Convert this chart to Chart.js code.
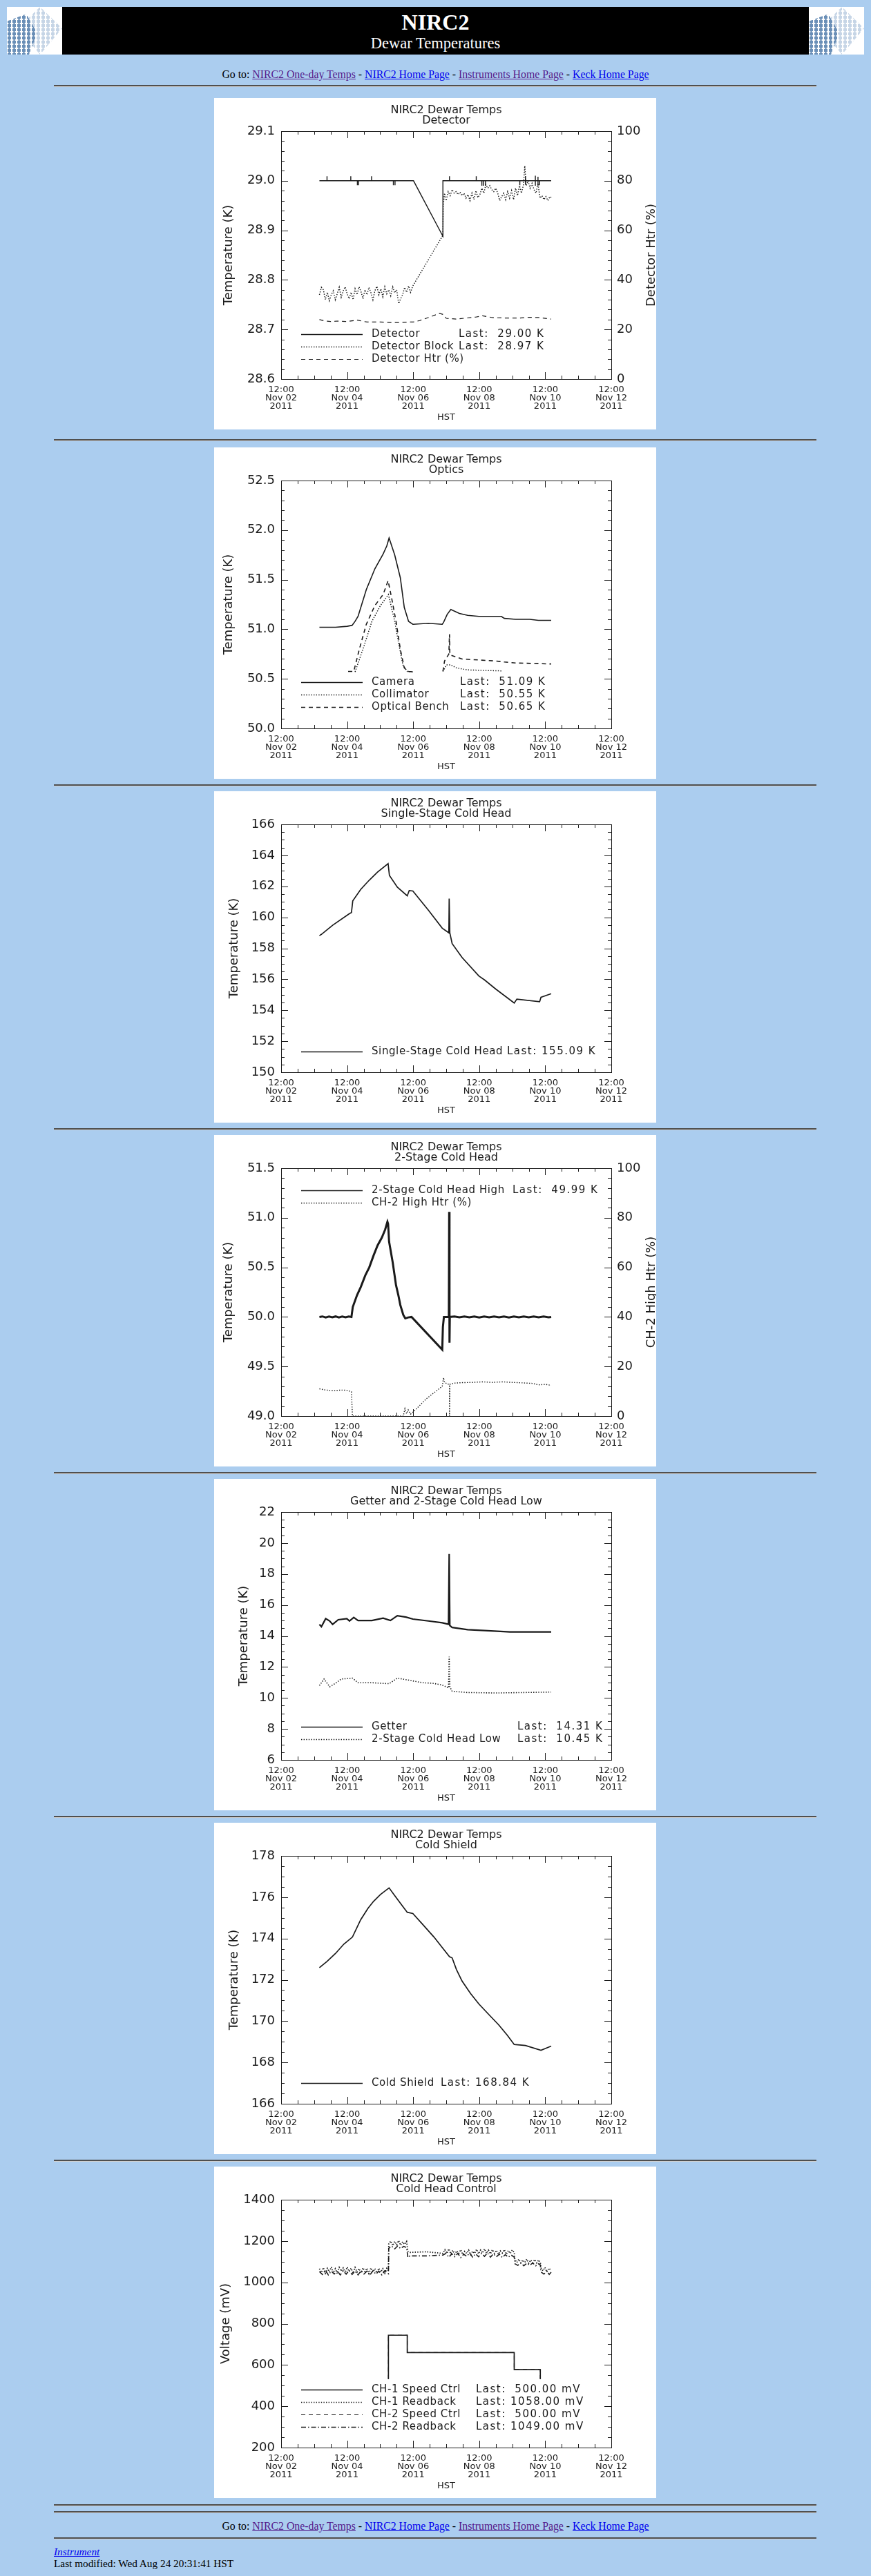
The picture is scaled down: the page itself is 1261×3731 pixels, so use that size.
<!DOCTYPE html>
<html lang="en">
<head>
<meta charset="utf-8">
<title>NIRC2 Dewar Temperatures</title>
<script src="https://cdn.jsdelivr.net/npm/chart.js@4.4.1/dist/chart.umd.min.js"></script>
<style>
  html, body { margin: 0; padding: 0; background: #abcdef; }
  body { font-family: "Liberation Serif", "Times New Roman", serif; color: #000; }
  #page { position: relative; width: 1261px; height: 3731px; overflow: hidden; }
  #page > * { position: absolute; }
  a { color: #0000ee; }
  a.seen { color: #551a8b; }
  #banner { left: 10px; top: 10px; width: 1241px; height: 69px; background: #000; color: #fff; text-align: center; }
  #banner .t1 { position: absolute; left: 80px; right: 80px; top: 4px; font-size: 32px; font-weight: bold; line-height: 36px; }
  #banner .t2 { position: absolute; left: 80px; right: 80px; top: 40px; font-size: 22.5px; line-height: 26px; }
  .logo { position: absolute; top: 0; width: 80px; height: 69px; background: #fff; overflow: hidden; }
  .logo i { position: absolute; left: 0; top: 0; width: 80px; height: 69px;
            background-image: radial-gradient(circle, var(--c) 2.5px, transparent 3px);
            background-size: 7px 6px; }
  .logo .lt { --c: #c6d5e6; clip-path: polygon(60% 0, 100% 45%, 60% 100%, 20% 45%); }
  .logo .dk { --c: #6a8fb7; clip-path: polygon(0 30%, 35% 15%, 55% 55%, 40% 100%, 0 100%); }
  .nav { left: 0; width: 1261px; height: 20px; text-align: center; font-size: 15.8px; line-height: 20px; }
  .rule { left: 78px; width: 1104px; height: 0; border-top: 2px solid #4f4f4f; border-bottom: 1px solid #d0d0d0; }
  .panel { left: 310px; width: 640px; height: 480px; background: #fff; }
  .panel canvas { display: block; }
  .foot { left: 78px; font-size: 15.3px; line-height: 18px; white-space: nowrap; }
</style>
</head>
<body>
<div id="page">
  <div id="banner">
    <div class="logo" style="left:0"><i class="lt"></i><i class="dk"></i></div>
    <div class="t1">NIRC2</div>
    <div class="t2">Dewar Temperatures</div>
    <div class="logo" style="left:1161px"><i class="lt"></i><i class="dk"></i></div>
  </div>

  <div class="nav" style="top:98px">Go to: <a class="seen" href="#">NIRC2 One-day Temps</a> - <a href="#">NIRC2 Home Page</a> - <a class="seen" href="#">Instruments Home Page</a> - <a href="#">Keck Home Page</a></div>
  <div class="rule" style="top:123px"></div>

  <div class="panel" style="top:142px"><canvas id="p1" width="640" height="480"></canvas></div>
  <div class="rule" style="top:636px"></div>
  <div class="panel" style="top:648px"><canvas id="p2" width="640" height="480"></canvas></div>
  <div class="rule" style="top:1136px"></div>
  <div class="panel" style="top:1146px"><canvas id="p3" width="640" height="480"></canvas></div>
  <div class="rule" style="top:1634px"></div>
  <div class="panel" style="top:1644px"><canvas id="p4" width="640" height="480"></canvas></div>
  <div class="rule" style="top:2132px"></div>
  <div class="panel" style="top:2142px"><canvas id="p5" width="640" height="480"></canvas></div>
  <div class="rule" style="top:2630px"></div>
  <div class="panel" style="top:2640px"><canvas id="p6" width="640" height="480"></canvas></div>
  <div class="rule" style="top:3128px"></div>
  <div class="panel" style="top:3138px"><canvas id="p7" width="640" height="480"></canvas></div>

  <div class="rule" style="top:3627px"></div>
  <div class="rule" style="top:3637px"></div>
  <div class="nav" style="top:3649px">Go to: <a class="seen" href="#">NIRC2 One-day Temps</a> - <a href="#">NIRC2 Home Page</a> - <a class="seen" href="#">Instruments Home Page</a> - <a href="#">Keck Home Page</a></div>
  <div class="rule" style="top:3675px"></div>
  <div class="foot" style="top:3687px"><a href="#"><i>Instrument</i></a></div>
  <div class="foot" style="top:3704px">Last modified: Wed Aug 24 20:31:41 HST</div>
</div>

<script>
// time axis: days after 12:00 Nov 02 2011 (HST)
const xTickValues = [0, 2, 4, 6, 8, 10];
const xTickLabels = [
  ["12:00", "Nov 02", "2011"], ["12:00", "Nov 04", "2011"], ["12:00", "Nov 06", "2011"],
  ["12:00", "Nov 08", "2011"], ["12:00", "Nov 10", "2011"], ["12:00", "Nov 12", "2011"],
];
const heaterAxisTicks = [0, 20, 40, 60, 80, 100];

// --- Detector ---
const detectorAxisTicks = [28.6, 28.7, 28.8, 28.9, 29.0, 29.1];
const detectorLegend = ["Detector", "Detector Block", "Detector Htr (%)"];
const detectorLast = ["Last:  29.00 K", "Last:  28.97 K", ""];
const detectorTimes = [1.16, 1.39, 1.39, 1.39, 2.11, 2.11, 2.11, 2.31, 2.31, 2.31,
  2.35, 2.35, 2.35, 2.74, 2.74, 2.74, 3.40, 3.40, 3.40, 3.45, 3.45, 3.45, 4.01, 4.90, 4.90,
  5.10, 5.10, 5.10, 5.91, 5.91, 5.91, 6.08, 6.08, 6.08, 6.13, 6.13, 6.13, 6.19, 6.19, 6.19,
  7.23, 7.23, 7.23, 7.40, 7.40, 7.40, 7.40, 7.70, 7.70, 7.70, 7.70, 7.78, 7.78, 7.78, 7.78,
  7.83, 7.83, 7.83, 8.18];
const detectorTemps = [29.000, 29.000, 29.009, 29.000, 29.000, 29.009, 29.000, 29.000, 28.991, 29.000,
  29.000, 28.991, 29.000, 29.000, 29.009, 29.000, 29.000, 28.991, 29.000, 29.000, 28.991, 29.000, 29.000, 28.888, 29.000,
  29.000, 29.009, 29.000, 29.000, 29.009, 29.000, 29.000, 28.990, 29.000, 29.000, 28.990, 29.000, 29.000, 28.990, 29.000,
  29.000, 28.991, 29.000, 29.000, 29.009, 28.992, 29.000, 29.000, 29.010, 28.990, 29.000, 29.000, 29.008, 28.990, 29.000,
  29.000, 28.991, 29.000, 29.000];
const blockTimes = [1.16, 1.22, 1.28, 1.34, 1.40, 1.46, 1.52, 1.58, 1.64, 1.70,
  1.76, 1.82, 1.88, 1.94, 2.00, 2.06, 2.12, 2.18, 2.24, 2.30,
  2.36, 2.42, 2.48, 2.54, 2.60, 2.66, 2.72, 2.78, 2.84, 2.90,
  2.96, 3.02, 3.08, 3.14, 3.20, 3.26, 3.32, 3.38, 3.44, 3.50,
  3.56, 3.62, 3.68, 3.74, 3.80, 3.86, 3.92, 3.99,
  4.90, 4.91, 4.95, 5.00, 5.06, 5.12, 5.18, 5.24, 5.30, 5.36,
  5.42, 5.48, 5.54, 5.60, 5.66, 5.72, 5.78, 5.84, 5.90, 5.96,
  6.02, 6.08, 6.14, 6.20, 6.26, 6.32, 6.38, 6.44, 6.50, 6.56,
  6.62, 6.68, 6.74, 6.80, 6.86, 6.92, 6.98, 7.04, 7.10, 7.16,
  7.22, 7.28, 7.34, 7.38, 7.42, 7.48, 7.54, 7.60, 7.66, 7.72,
  7.78, 7.84, 7.90, 7.96, 8.02, 8.08, 8.14, 8.18];
const blockTemps = [28.770, 28.785, 28.780, 28.760, 28.775, 28.758, 28.770, 28.778, 28.760, 28.772,
  28.785, 28.765, 28.778, 28.786, 28.772, 28.762, 28.775, 28.760, 28.782, 28.770,
  28.786, 28.776, 28.762, 28.780, 28.770, 28.785, 28.774, 28.760, 28.778, 28.787,
  28.770, 28.782, 28.766, 28.786, 28.772, 28.780, 28.768, 28.786, 28.774, 28.780,
  28.752, 28.762, 28.770, 28.785, 28.775, 28.788, 28.775, 28.788,
  28.890, 28.950, 28.975, 28.960, 28.978, 28.970, 28.982, 28.975, 28.978, 28.972,
  28.977, 28.970, 28.975, 28.965, 28.972, 28.960, 28.975, 28.962, 28.980, 28.966,
  28.972, 28.985, 28.975, 28.992, 28.985, 28.990, 28.982, 28.978, 28.985, 28.975,
  28.960, 28.968, 28.975, 28.962, 28.978, 28.965, 28.980, 28.962, 28.985, 28.970,
  28.990, 28.975, 28.992, 29.030, 28.990, 29.000, 28.985, 28.995, 28.982, 28.975,
  28.995, 28.965, 28.970, 28.962, 28.968, 28.960, 28.968, 28.966];
const detHeaterTimes = [1.16, 1.30, 1.50, 1.70, 2.00, 2.30, 2.60, 3.00, 3.30, 3.60,
  3.90, 4.00, 4.20, 4.50, 4.80, 4.92, 5.00, 5.30, 5.60, 5.90,
  6.10, 6.40, 6.80, 7.20, 7.50, 7.80, 8.18];
const detHeaterPct = [24.0, 23.5, 23.2, 23.4, 23.2, 23.8, 23.0, 23.0, 22.8, 22.8,
  23.0, 23.0, 23.6, 25.0, 26.5, 26.0, 24.5, 24.2, 24.6, 25.0,
  25.5, 24.8, 24.6, 24.6, 24.9, 24.8, 24.2];

// --- Optics ---
const opticsAxisTicks = [50.0, 50.5, 51.0, 51.5, 52.0, 52.5];
const opticsLegend = ["Camera", "Collimator", "Optical Bench"];
const opticsLast = ["Last:  51.09 K", "Last:  50.55 K", "Last:  50.65 K"];
const cameraTimes = [1.16, 1.65, 2.00, 2.15, 2.24, 2.33, 2.58, 2.84, 3.09, 3.20,
  3.27, 3.44, 3.61, 3.73, 3.86, 3.99, 4.46, 4.88, 4.92, 5.03,
  5.14, 5.40, 5.65, 5.99, 6.67, 6.76, 7.10, 7.53, 7.79, 8.18];
const cameraTemps = [51.02, 51.02, 51.03, 51.04, 51.08, 51.13, 51.40, 51.61, 51.76, 51.84,
  51.92, 51.75, 51.52, 51.22, 51.08, 51.05, 51.06, 51.05, 51.07, 51.15,
  51.20, 51.16, 51.14, 51.13, 51.13, 51.11, 51.10, 51.10, 51.09, 51.09];
const collimatorTimes = [2.24, 2.50, 2.75, 3.01, 3.25, 3.44, 3.57, 3.69, 3.82, 3.99,
  4.40, 4.90, 5.01, 5.14, 5.31, 5.65, 6.68];
const collimatorTemps = [50.57, 50.82, 51.08, 51.24, 51.35, 51.08, 50.84, 50.64, 50.575, 50.57,
  null, 50.575, 50.64, 50.64, 50.61, 50.59, 50.58];
const benchTimes = [2.03, 2.20, 2.37, 2.58, 2.84, 3.09, 3.24, 3.35, 3.48, 3.61,
  3.73, 3.86, 3.99, 4.40, 4.90, 4.95, 5.08, 5.10, 5.11, 5.12,
  5.48, 6.50, 6.76, 7.10, 8.18];
const benchTemps = [50.575, 50.575, 50.80, 51.05, 51.24, 51.35, 51.49, 51.31, 51.08, 50.80,
  50.61, 50.575, 50.57, null, 50.575, 50.68, 50.75, 50.95, 50.75, 50.74,
  50.70, 50.68, 50.67, 50.66, 50.65];

// --- Single-Stage Cold Head ---
const singleAxisTicks = [150, 152, 154, 156, 158, 160, 162, 164, 166];
const singleLegend = ["Single-Stage Cold Head"];
const singleLast = ["Last: 155.09 K"];
const singleTimes = [1.16, 1.22, 1.56, 2.07, 2.13, 2.17, 2.41, 2.67, 2.92, 3.24,
  3.28, 3.52, 3.82, 3.88, 3.99, 4.46, 4.88, 5.08, 5.09, 5.11,
  5.18, 5.48, 5.99, 6.16, 6.50, 7.06, 7.14, 7.83, 7.87, 8.18];
const singleTemps = [158.82, 158.90, 159.49, 160.24, 160.31, 161.06, 161.80, 162.40, 162.92, 163.47,
  162.70, 161.95, 161.39, 161.73, 161.70, 160.46, 159.30, 159.00, 161.21, 159.00,
  158.30, 157.41, 156.21, 155.96, 155.37, 154.47, 154.72, 154.55, 154.84, 155.07];

// --- 2-Stage Cold Head ---
const stageAxisTicks = [49.0, 49.5, 50.0, 50.5, 51.0, 51.5];
const stageLegend = ["2-Stage Cold Head High", "CH-2 High Htr (%)"];
const stageLast = ["Last:  49.99 K", ""];
const highTimes = [1.16, 1.25, 1.35, 1.45, 1.55, 1.65, 1.75, 1.85, 1.95, 2.05,
  2.13, 2.17, 2.30, 2.41, 2.55, 2.67, 2.80, 2.92, 3.05, 3.15,
  3.22, 3.24, 3.27, 3.38, 3.48, 3.55, 3.61, 3.70, 3.76, 3.85,
  3.95, 4.88, 4.90, 4.93, 5.08, 5.09, 5.10, 5.11, 5.25, 5.40,
  5.55, 5.70, 5.85, 6.00, 6.15, 6.30, 6.45, 6.60, 6.75, 6.90,
  7.05, 7.20, 7.35, 7.50, 7.65, 7.80, 7.95, 8.10, 8.18];
const highTemps = [50.00, 50.005, 49.995, 50.004, 49.996, 50.005, 49.995, 50.004, 49.996, 50.005,
  50.00, 50.10, 50.22, 50.30, 50.42, 50.50, 50.62, 50.72, 50.80, 50.88,
  50.96, 50.94, 50.76, 50.55, 50.32, 50.22, 50.12, 50.02, 49.985, 49.995,
  50.00, 49.67, 49.90, 50.00, 50.00, 51.06, 49.74, 50.00, 50.004, 49.996,
  50.004, 49.996, 50.005, 49.995, 50.004, 49.996, 50.004, 49.996, 50.005, 49.995,
  50.004, 49.996, 50.004, 49.996, 50.005, 49.996, 50.004, 49.996, 50.00];
const ch2HeaterTimes = [1.16, 1.30, 1.45, 1.60, 1.80, 2.00, 2.13, 2.16, 3.70, 3.75,
  3.80, 3.85, 3.92, 3.99, 4.40, 4.88, 4.92, 4.95, 5.05, 5.10,
  5.10, 5.11, 5.25, 5.50, 5.80, 6.10, 6.40, 6.70, 7.00, 7.30,
  7.60, 7.80, 8.00, 8.18];
const ch2HeaterPct = [11.0, 10.6, 10.4, 10.2, 10.5, 10.4, 9.8, 0, 0, 3.0,
  1.0, 2.5, 0.8, 1.5, 7.0, 12.0, 15.5, 13.5, 13.0, 12.5,
  0, 12.8, 13.3, 13.5, 13.6, 13.8, 13.6, 13.8, 13.6, 13.4,
  13.2, 12.6, 12.8, 12.4];

// --- Getter and 2-Stage Cold Head Low ---
const getterAxisTicks = [6, 8, 10, 12, 14, 16, 18, 20, 22];
const getterLegend = ["Getter", "2-Stage Cold Head Low"];
const getterLast = ["Last:  14.31 K", "Last:  10.45 K"];
const getterTimes = [1.16, 1.22, 1.35, 1.47, 1.56, 1.73, 1.99, 2.07, 2.20, 2.33,
  2.75, 3.09, 3.31, 3.52, 3.78, 3.99, 4.46, 4.88, 5.07, 5.09,
  5.11, 5.18, 5.65, 6.16, 6.93, 8.18];
const getterTemps = [14.75, 14.60, 15.12, 14.97, 14.75, 15.05, 15.12, 14.97, 15.20, 15.00,
  15.00, 15.15, 15.00, 15.31, 15.22, 15.09, 14.97, 14.85, 14.75, 19.29,
  14.67, 14.55, 14.41, 14.35, 14.26, 14.26];
const lowTimes = [1.16, 1.30, 1.47, 1.65, 1.82, 2.16, 2.33, 2.75, 3.27, 3.52,
  3.99, 4.29, 4.59, 4.88, 5.07, 5.09, 5.11, 5.18, 5.65, 6.50, 8.18];
const lowTemps = [10.80, 11.22, 10.72, 10.95, 11.22, 11.28, 10.98, 10.98, 10.92, 11.28,
  11.10, 10.98, 10.95, 10.83, 10.65, 12.66, 10.72, 10.43, 10.35, 10.32, 10.38];

// --- Cold Shield ---
const shieldAxisTicks = [166, 168, 170, 172, 174, 176, 178];
const shieldLegend = ["Cold Shield"];
const shieldLast = ["Last: 168.84 K"];
const shieldTimes = [1.16, 1.39, 1.65, 1.90, 2.16, 2.41, 2.63, 2.80, 3.01, 3.27,
  3.44, 3.65, 3.82, 3.99, 4.29, 4.63, 4.88, 5.10, 5.18, 5.31,
  5.48, 5.74, 5.99, 6.29, 6.59, 6.85, 7.06, 7.40, 7.87, 8.04, 8.18];
const shieldTemps = [172.59, 172.89, 173.28, 173.73, 174.07, 174.91, 175.46, 175.80, 176.13, 176.45,
  176.08, 175.63, 175.27, 175.21, 174.68, 174.07, 173.56, 173.12, 173.06, 172.50,
  171.94, 171.33, 170.83, 170.32, 169.82, 169.32, 168.87, 168.82, 168.59, 168.70, 168.79];

// --- Cold Head Control ---
const voltAxisTicks = [200, 400, 600, 800, 1000, 1200, 1400];
const controlLegend = ["CH-1 Speed Ctrl", "CH-1 Readback", "CH-2 Speed Ctrl", "CH-2 Readback"];
const controlLast = ["Last:  500.00 mV", "Last: 1058.00 mV", "Last:  500.00 mV", "Last: 1049.00 mV"];
const speedTimes = [3.25, 3.25, 3.82, 3.82, 7.06, 7.06, 7.85, 7.85];
const ch1Speed = [532, 744, 744, 660, 660, 577, 577, 532];
const ch2Speed = [532, 744, 744, 660, 660, 577, 577, 532];
const ch1ReadTimes = [1.16, 1.22, 1.28, 1.34, 1.40, 1.46, 1.52, 1.58, 1.64, 1.70,
  1.76, 1.82, 1.88, 1.94, 2.00, 2.06, 2.12, 2.18, 2.24, 2.30,
  2.36, 2.42, 2.48, 2.54, 2.60, 2.66, 2.72, 2.78, 2.84, 2.90,
  2.96, 3.02, 3.08, 3.14, 3.20, 3.25,
  3.26, 3.32, 3.38, 3.44, 3.50, 3.56, 3.62, 3.68, 3.74, 3.80, 3.84, 3.90, 4.40, 4.90,
  4.96, 5.02, 5.08, 5.14, 5.20, 5.26, 5.32, 5.38, 5.44, 5.50,
  5.56, 5.62, 5.68, 5.74, 5.80, 5.86, 5.92, 5.98, 6.04, 6.10,
  6.16, 6.22, 6.28, 6.34, 6.40, 6.46, 6.52, 6.58, 6.64, 6.70,
  6.76, 6.82, 6.88, 6.94, 7.00, 7.06,
  7.08, 7.14, 7.20, 7.26, 7.32, 7.38, 7.44, 7.50, 7.56, 7.62, 7.68, 7.74, 7.80, 7.85,
  7.87, 7.93, 7.99, 8.05, 8.11, 8.18];
const ch1Readback = [1066, 1048, 1071, 1044, 1068, 1051, 1074, 1046, 1066, 1042,
  1072, 1054, 1070, 1046, 1074, 1052, 1068, 1044, 1072, 1050,
  1066, 1046, 1070, 1052, 1068, 1042, 1070, 1050, 1066, 1046,
  1068, 1050, 1066, 1044, 1068, 1056,
  1185, 1200, 1178, 1198, 1182, 1202, 1180, 1196, 1184, 1198, 1150, 1145, 1148, 1140,
  1158, 1140, 1162, 1138, 1155, 1136, 1152, 1140, 1158, 1135,
  1150, 1140, 1156, 1134, 1150, 1140, 1160, 1138, 1156, 1142,
  1162, 1140, 1156, 1138, 1158, 1140, 1155, 1136, 1152, 1142,
  1158, 1136, 1154, 1140, 1156, 1145,
  1110, 1096, 1112, 1094, 1108, 1096, 1112, 1092, 1108, 1095, 1110, 1094, 1108, 1098,
  1070, 1056, 1072, 1050, 1068, 1058];
const ch2ReadTimes = [1.16, 1.25, 1.34, 1.43, 1.52, 1.61, 1.70, 1.79, 1.88, 1.97,
  2.06, 2.15, 2.24, 2.33, 2.42, 2.51, 2.60, 2.69, 2.78, 2.87,
  2.96, 3.05, 3.14, 3.25,
  3.26, 3.35, 3.44, 3.53, 3.62, 3.71, 3.80, 3.84, 3.90, 4.40, 4.90,
  4.99, 5.08, 5.17, 5.26, 5.35, 5.44, 5.53, 5.62, 5.71, 5.80,
  5.89, 5.98, 6.07, 6.16, 6.25, 6.34, 6.43, 6.52, 6.61, 6.70,
  6.79, 6.88, 6.97, 7.06,
  7.08, 7.17, 7.26, 7.35, 7.44, 7.53, 7.62, 7.71, 7.80, 7.85,
  7.87, 7.96, 8.05, 8.12, 8.18];
const ch2Readback = [1052, 1038, 1058, 1036, 1054, 1040, 1056, 1036, 1054, 1040,
  1058, 1038, 1054, 1036, 1056, 1040, 1054, 1036, 1056, 1040,
  1054, 1036, 1056, 1042,
  1165, 1175, 1162, 1176, 1164, 1174, 1168, 1120, 1128, 1128, 1132,
  1140, 1122, 1138, 1124, 1140, 1120, 1136, 1126, 1142, 1122,
  1138, 1124, 1140, 1126, 1142, 1122, 1138, 1124, 1136, 1120,
  1134, 1122, 1132, 1122,
  1090, 1082, 1094, 1080, 1092, 1082, 1094, 1080, 1090, 1084,
  1050, 1040, 1055, 1038, 1049];

const INK = "#1a1a1a";
const SANS = "'DejaVu Sans', 'Liberation Sans', sans-serif";
const SOLID = [];
const DOTTED = [1.4, 2.2];
const DASHED = [6, 5];
const DASHDOT = [7, 3, 1.5, 3];

Chart.defaults.font.family = SANS;
Chart.defaults.color = INK;

function points(times, values) {
  return times.map((t, i) => ({ x: t, y: values[i] }));
}

function line(label, times, values, dash, width, axis) {
  return {
    label,
    data: points(times, values),
    borderColor: INK,
    borderWidth: width || 1.3,
    borderDash: dash,
    yAxisID: axis || "y",
    pointRadius: 0,
    tension: 0,
    fill: false,
    spanGaps: false,
  };
}

// IDL style box: inward ticks on all four sides, legend inside the plot
function idlFrame(p) {
  return {
    id: "idlFrame",
    afterDatasetsDraw(chart) {
      const { ctx, chartArea: a, scales } = chart;
      const seg = (x1, y1, x2, y2) => {
        ctx.beginPath(); ctx.moveTo(x1, y1); ctx.lineTo(x2, y2); ctx.stroke();
      };
      const along = (scale, minor, major, draw) => {
        const n = Math.round((scale.max - scale.min) / minor);
        for (let i = 0; i <= n; i++) {
          const v = scale.min + i * minor;
          const r = (v - scale.min) / major;
          const isMajor = Math.abs(r - Math.round(r)) < 1e-6;
          draw(Math.round(scale.getPixelForValue(v)) + 0.5, isMajor ? 10 : 5);
        }
      };
      ctx.save();
      ctx.strokeStyle = INK;
      ctx.lineWidth = 1;
      ctx.setLineDash([]);
      ctx.strokeRect(a.left + 0.5, a.top + 0.5, a.right - a.left, a.bottom - a.top);
      along(scales.x, 0.5, 2, (px, len) => {
        seg(px, a.bottom, px, a.bottom - len);
        seg(px, a.top, px, a.top + len);
      });
      along(scales.y, p.yMinor, p.yMajor, (py, len) => seg(a.left, py, a.left + len, py));
      if (p.right) {
        along(scales.y2, p.right.minor, p.right.major, (py, len) => seg(a.right, py, a.right - len, py));
      } else {
        along(scales.y, p.yMinor, p.yMajor, (py, len) => seg(a.right, py, a.right - len, py));
      }

      // legend: name column at 228, "Last:" column at p.lastX
      ctx.font = "15px " + SANS;
      ctx.fillStyle = INK;
      ctx.textBaseline = "middle";
      ctx.textAlign = "left";
      p.legendNames.forEach((name, i) => {
        const ds = chart.data.datasets[i];
        const y = p.legendTop + i * 18;
        ctx.lineWidth = Math.min(ds.borderWidth, 1.6);
        ctx.setLineDash(ds.borderDash || []);
        seg(126, y + 0.5, 215, y + 0.5);
        ctx.setLineDash([]);
        ctx.letterSpacing = "0.6px";
        ctx.fillText(name, 228, y);
        if (p.legendLast && p.legendLast[i]) {
          ctx.letterSpacing = "1.5px";
          ctx.fillText(p.legendLast[i], p.lastX, y);
        }
      });
      ctx.letterSpacing = "0px";

      if (p.right) {
        ctx.translate(633, (a.top + a.bottom) / 2);
        ctx.rotate(-Math.PI / 2);
        ctx.font = "18px " + SANS;
        ctx.textAlign = "center";
        ctx.fillText(p.right.title, 0, 0);
      }
      ctx.restore();
    },
  };
}

function drawPanel(p) {
  const scales = {
    x: {
      type: "linear",
      min: 0,
      max: 10,
      grid: { display: false, drawTicks: false },
      border: { display: false },
      afterBuildTicks: (s) => { s.ticks = xTickValues.map((v) => ({ value: v })); },
      afterFit: (s) => { s.height = 73; },
      ticks: {
        autoSkip: false,
        maxRotation: 0,
        padding: 10,
        font: { size: 13, lineHeight: 0.9 },
        callback: (v, i) => xTickLabels[i],
      },
      title: { display: true, text: "HST", font: { size: 13 }, padding: { top: 0, bottom: 10 } },
    },
    y: {
      type: "linear",
      position: "left",
      min: p.yMin,
      max: p.yMax,
      grid: { display: false, drawTicks: false },
      border: { display: false },
      afterBuildTicks: (s) => { s.ticks = p.yTicks.map((v) => ({ value: v })); },
      afterFit: (s) => { s.width = 97; },
      ticks: { autoSkip: false, padding: 9, font: { size: 18 }, callback: (v) => v.toFixed(p.dec) },
      title: { display: true, text: p.yTitle, font: { size: 18 }, padding: { top: p.yTitlePad, bottom: 0 } },
    },
  };
  if (p.right) {
    scales.y2 = {
      type: "linear",
      position: "right",
      min: p.right.min,
      max: p.right.max,
      grid: { display: false, drawTicks: false },
      border: { display: false },
      afterBuildTicks: (s) => { s.ticks = p.right.ticks.map((v) => ({ value: v })); },
      afterFit: (s) => { s.width = 65; },
      ticks: { autoSkip: false, padding: 8, font: { size: 18 }, callback: (v) => String(v) },
    };
  }

  new Chart(document.getElementById(p.canvas), {
    type: "line",
    data: { datasets: p.datasets },
    options: {
      responsive: false,
      animation: false,
      events: [],
      layout: { padding: { top: 0, left: 0, bottom: 0, right: p.right ? 0 : 65 } },
      plugins: {
        legend: { display: false },
        tooltip: { enabled: false },
        title: {
          display: true,
          fullSize: false,
          text: p.title,
          color: INK,
          font: { size: 16, weight: "normal", lineHeight: 15 / 16 },
          padding: { top: 10, bottom: 8 },
        },
      },
      scales,
    },
    plugins: [idlFrame(p)],
  });
}

drawPanel({
  canvas: "p1",
  title: ["NIRC2 Dewar Temps", "Detector"],
  yMin: 28.6, yMax: 29.1, yTicks: detectorAxisTicks, dec: 1, yMinor: 0.02, yMajor: 0.1,
  yTitle: "Temperature (K)", yTitlePad: 11,
  right: { min: 0, max: 100, ticks: heaterAxisTicks, minor: 4, major: 20, title: "Detector Htr (%)" },
  legendNames: detectorLegend, legendLast: detectorLast, legendTop: 342, lastX: 354,
  datasets: [
    line(detectorLegend[0], detectorTimes, detectorTemps, SOLID, 1.4),
    line(detectorLegend[1], blockTimes, blockTemps, DOTTED, 1.5),
    line(detectorLegend[2], detHeaterTimes, detHeaterPct, DASHED, 1.2, "y2"),
  ],
});

drawPanel({
  canvas: "p2",
  title: ["NIRC2 Dewar Temps", "Optics"],
  yMin: 50.0, yMax: 52.5, yTicks: opticsAxisTicks, dec: 1, yMinor: 0.1, yMajor: 0.5,
  yTitle: "Temperature (K)", yTitlePad: 11,
  legendNames: opticsLegend, legendLast: opticsLast, legendTop: 340, lastX: 356,
  datasets: [
    line(opticsLegend[0], cameraTimes, cameraTemps, SOLID, 1.6),
    line(opticsLegend[1], collimatorTimes, collimatorTemps, DOTTED, 1.5),
    line(opticsLegend[2], benchTimes, benchTemps, DASHED, 1.6),
  ],
});

drawPanel({
  canvas: "p3",
  title: ["NIRC2 Dewar Temps", "Single-Stage Cold Head"],
  yMin: 150, yMax: 166, yTicks: singleAxisTicks, dec: 0, yMinor: 0.5, yMajor: 2,
  yTitle: "Temperature (K)", yTitlePad: 19,
  legendNames: singleLegend, legendLast: singleLast, legendTop: 377, lastX: 424,
  datasets: [line(singleLegend[0], singleTimes, singleTemps, SOLID, 1.7)],
});

drawPanel({
  canvas: "p4",
  title: ["NIRC2 Dewar Temps", "2-Stage Cold Head"],
  yMin: 49.0, yMax: 51.5, yTicks: stageAxisTicks, dec: 1, yMinor: 0.1, yMajor: 0.5,
  yTitle: "Temperature (K)", yTitlePad: 11,
  right: { min: 0, max: 100, ticks: heaterAxisTicks, minor: 4, major: 20, title: "CH-2 High Htr (%)" },
  legendNames: stageLegend, legendLast: stageLast, legendTop: 80, lastX: 432,
  datasets: [
    line(stageLegend[0], highTimes, highTemps, SOLID, 3),
    line(stageLegend[1], ch2HeaterTimes, ch2HeaterPct, DOTTED, 1.4, "y2"),
  ],
});

drawPanel({
  canvas: "p5",
  title: ["NIRC2 Dewar Temps", "Getter and 2-Stage Cold Head Low"],
  yMin: 6, yMax: 22, yTicks: getterAxisTicks, dec: 0, yMinor: 0.5, yMajor: 2,
  yTitle: "Temperature (K)", yTitlePad: 33,
  legendNames: getterLegend, legendLast: getterLast, legendTop: 359, lastX: 439,
  datasets: [
    line(getterLegend[0], getterTimes, getterTemps, SOLID, 2.2),
    line(getterLegend[1], lowTimes, lowTemps, DOTTED, 1.6),
  ],
});

drawPanel({
  canvas: "p6",
  title: ["NIRC2 Dewar Temps", "Cold Shield"],
  yMin: 166, yMax: 178, yTicks: shieldAxisTicks, dec: 0, yMinor: 0.5, yMajor: 2,
  yTitle: "Temperature (K)", yTitlePad: 19,
  legendNames: shieldLegend, legendLast: shieldLast, legendTop: 377, lastX: 328,
  datasets: [line(shieldLegend[0], shieldTimes, shieldTemps, SOLID, 1.7)],
});

drawPanel({
  canvas: "p7",
  title: ["NIRC2 Dewar Temps", "Cold Head Control"],
  yMin: 200, yMax: 1400, yTicks: voltAxisTicks, dec: 0, yMinor: 50, yMajor: 200,
  yTitle: "Voltage (mV)", yTitlePad: 7,
  legendNames: controlLegend, legendLast: controlLast, legendTop: 323, lastX: 379,
  datasets: [
    line(controlLegend[0], speedTimes, ch1Speed, SOLID, 1.7),
    line(controlLegend[1], ch1ReadTimes, ch1Readback, DOTTED, 1.8),
    line(controlLegend[2], speedTimes, ch2Speed, DASHED, 1.2),
    line(controlLegend[3], ch2ReadTimes, ch2Readback, DASHDOT, 1.6),
  ],
});
</script>
</body>
</html>
